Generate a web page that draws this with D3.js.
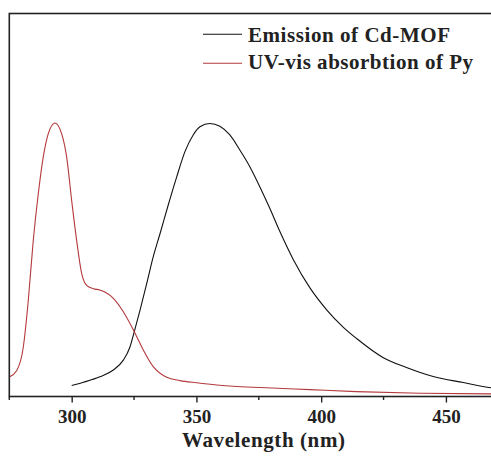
<!DOCTYPE html>
<html>
<head>
<meta charset="utf-8">
<script src="https://cdn.jsdelivr.net/npm/d3@7"></script>
<style>
  html, body { margin: 0; padding: 0; background: #fff; }
  svg { display: block; font-family: "Liberation Serif", "DejaVu Serif", serif; }
</style>
</head>
<body>
<div id="chart"></div>
<script>
// Emission of Cd-MOF vs UV-vis absorption of Py, both normalised (arb. units).
const emissionNm = [300, 304.7, 311.3, 316.7, 320.7, 323.4, 325.1, 327.4, 330.1, 332.7, 335.4, 338.7, 342.1, 345.4, 348.7, 351.4, 355.4,
  359.4, 363.4, 367.4, 371.4, 375.4, 379.4, 383.5, 388.8, 395.5, 402.2, 408.9, 414.2, 424.9, 434.2, 444.9, 457, 468, 475];
const emissionVal = [0.040, 0.052, 0.072, 0.097, 0.133, 0.182, 0.237, 0.316, 0.414, 0.511, 0.595, 0.700, 0.803, 0.895, 0.956, 0.986, 0.998,
  0.988, 0.956, 0.901, 0.840, 0.767, 0.688, 0.602, 0.501, 0.397, 0.317, 0.253, 0.212, 0.142, 0.106, 0.073, 0.051, 0.032, 0.025];

const absorbNm = [275, 278, 280.6, 282.6, 284.6, 286.6, 288.6, 290.6, 293.3, 296, 298, 300, 302, 304, 306, 308.7, 311.3,
  316.7, 320.7, 325.1, 328.7, 332.7, 338.1, 343.4, 350.1, 358.1, 370, 378, 395.5, 414, 439.6, 468, 475];
const absorbVal = [0.071, 0.095, 0.180, 0.350, 0.570, 0.740, 0.875, 0.960, 1.000, 0.960, 0.875, 0.716, 0.570, 0.450, 0.406, 0.394, 0.389,
  0.359, 0.310, 0.237, 0.170, 0.109, 0.070, 0.058, 0.050, 0.042, 0.035, 0.032, 0.025, 0.018, 0.012, 0.0095, 0.009];

const majorTicks = [300, 350, 400, 450];
const minorTicks = [275, 325, 375, 425, 475];
const legendLabels = ["Emission of Cd-MOF", "UV-vis absorbtion of Py"];
const seriesColors = ["#111111", "#b3393b"];

const width = 491, height = 461;
const x = d3.scaleLinear().domain([275, 475]).range([9.3, 508.3]);
const y = d3.scaleLinear().domain([0, 1.4]).range([396.5, 13.5]);

const svg = d3.select("#chart").append("svg")
  .attr("width", width).attr("height", height).attr("viewBox", `0 0 ${width} ${height}`);

const line = d3.line().x((d) => x(d[0])).y((d) => y(d[1])).curve(d3.curveMonotoneX);

const series = [
  d3.zip(emissionNm, emissionVal),
  d3.zip(absorbNm, absorbVal),
];

svg.append("g").selectAll("path").data(series).join("path")
  .attr("fill", "none")
  .attr("stroke", (d, i) => seriesColors[i])
  .attr("stroke-width", 1.1)
  .attr("d", line);

// frame (right side falls outside the picture)
svg.append("rect")
  .attr("x", x(275)).attr("y", y(1.4))
  .attr("width", x(475) - x(275)).attr("height", y(0) - y(1.4))
  .attr("fill", "none").attr("stroke", "#222").attr("stroke-width", 1.6);

const axis = svg.append("g").attr("transform", `translate(0,${y(0)})`)
  .call(d3.axisBottom(x).tickValues(majorTicks).tickSize(6).tickSizeOuter(0).tickFormat(d3.format("d")));
axis.select(".domain").remove();
axis.selectAll(".tick line").attr("stroke", "#222").attr("stroke-width", 1.4);
axis.selectAll(".tick text")
  .attr("y", 26.5).attr("dy", 0)
  .attr("fill", "#222").attr("font-size", 19).attr("font-weight", "bold")
  .attr("font-family", "Liberation Serif, serif");

svg.append("g").attr("transform", `translate(0,${y(0)})`)
  .selectAll("line").data(minorTicks).join("line")
  .attr("x1", (d) => x(d)).attr("x2", (d) => x(d))
  .attr("y1", 0).attr("y2", 3.5)
  .attr("stroke", "#222").attr("stroke-width", 1.4);

svg.append("text")
  .attr("x", 182).attr("y", 447)
  .attr("font-size", 21).attr("font-weight", "bold").attr("fill", "#222")
  .attr("textLength", 163).attr("lengthAdjust", "spacing")
  .text("Wavelength (nm)");

const legend = svg.append("g");
const legendLineY = [34.3, 63.3];
const legendTextY = [41.7, 69.3];
const legendWidths = [202, 225];
legend.selectAll("line").data(legendLabels).join("line")
  .attr("x1", 203).attr("x2", 242)
  .attr("y1", (d, i) => legendLineY[i]).attr("y2", (d, i) => legendLineY[i])
  .attr("stroke", (d, i) => seriesColors[i]).attr("stroke-width", 1.1);
legend.selectAll("text").data(legendLabels).join("text")
  .attr("x", 248).attr("y", (d, i) => legendTextY[i])
  .attr("font-size", 21).attr("font-weight", "bold").attr("fill", "#222")
  .attr("textLength", (d, i) => legendWidths[i]).attr("lengthAdjust", "spacing")
  .text((d) => d);
</script>
</body>
</html>
